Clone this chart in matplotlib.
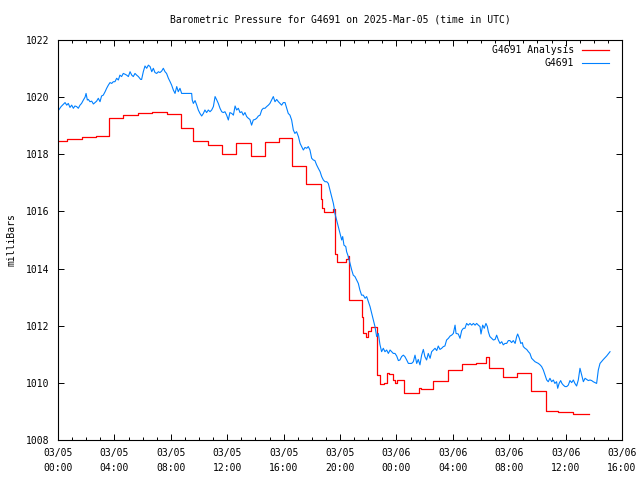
import numpy as np
import pandas as pd
import matplotlib
matplotlib.use("Agg")
import matplotlib.pyplot as plt
import matplotlib.dates as mdates

plt.rcParams['font.family'] = ['DejaVu Sans Mono']
plt.rcParams['font.size'] = 7

start = pd.Timestamp("2025-03-05 00:00")

# analysis series: hours after start where each step begins, and its value (mb)
ana_hours = [0.0, 0.62, 1.68, 2.67, 3.64, 4.63, 5.65, 6.65, 7.71, 8.70, 9.59,
             10.62, 11.61, 12.63, 13.66, 14.68, 15.66, 16.62, 17.59, 18.63,
             18.71, 18.89, 19.53, 19.62, 19.77, 20.46, 20.55, 20.63, 21.56,
             21.63, 21.85, 22.01, 22.22, 22.60, 22.83, 23.10, 23.31, 23.49,
             23.73, 23.88, 24.03, 24.56, 25.60, 25.72, 26.62, 27.64, 28.63,
             29.65, 30.33, 30.57, 31.53, 32.57, 33.57, 34.59, 35.48, 36.55,
             37.64]
ana_mb = [1018.46, 1018.53, 1018.59, 1018.65, 1019.26, 1019.39, 1019.44,
          1019.48, 1019.40, 1018.91, 1018.46, 1018.31, 1018.00, 1018.38,
          1017.94, 1018.42, 1018.56, 1017.59, 1016.96, 1016.45, 1016.11,
          1015.99, 1016.08, 1014.50, 1014.24, 1014.35, 1014.45, 1012.90,
          1012.32, 1011.74, 1011.59, 1011.83, 1011.96, 1010.27, 1009.96,
          1009.98, 1010.36, 1010.31, 1010.10, 1009.99, 1010.10, 1009.66,
          1009.83, 1009.77, 1010.08, 1010.44, 1010.65, 1010.68, 1010.89,
          1010.51, 1010.19, 1010.33, 1009.70, 1009.01, 1008.97, 1008.91,
          1008.91]

# station observations
obs_hours = [0.02, 0.22, 0.38, 0.50, 0.62, 0.73, 0.85, 0.97, 1.09, 1.20, 1.32,
             1.44, 1.56, 1.67, 1.80, 1.92, 1.99, 2.08, 2.15, 2.27, 2.39, 2.51,
             2.62, 2.74, 2.86, 2.98, 3.09, 3.21, 3.34, 3.45, 3.57, 3.69, 3.81,
             3.92, 4.04, 4.16, 4.28, 4.39, 4.51, 4.63, 4.76, 4.87, 4.99, 5.11,
             5.23, 5.34, 5.46, 5.58, 5.70, 5.86, 5.93, 6.05, 6.17, 6.29, 6.41,
             6.53, 6.65, 6.76, 6.88, 7.00, 7.12, 7.23, 7.35, 7.47, 7.59, 7.70,
             7.83, 7.95, 8.06, 8.18, 8.30, 8.42, 8.53, 8.65, 8.77, 9.48, 9.52,
             9.60, 9.72, 9.84, 9.95, 10.07, 10.19, 10.31, 10.42, 10.54, 10.66,
             10.78, 10.90, 11.02, 11.14, 11.26, 11.37, 11.49, 11.61, 11.72,
             11.84, 11.96, 12.08, 12.19, 12.32, 12.44, 12.56, 12.67, 12.79,
             12.91, 13.03, 13.14, 13.26, 13.38, 13.50, 13.61, 13.73, 13.85,
             13.98, 14.09, 14.21, 14.33, 14.45, 14.56, 14.68, 14.80, 14.92,
             15.03, 15.15, 15.27, 15.39, 15.51, 15.63, 15.75, 15.86, 15.98,
             16.10, 16.22, 16.33, 16.45, 16.57, 16.69, 16.80, 16.92, 17.05,
             17.17, 17.28, 17.40, 17.52, 17.64, 17.75, 17.87, 17.99, 18.11,
             18.22, 18.34, 18.46, 18.59, 18.70, 18.82, 18.94, 19.06, 19.17,
             19.29, 19.41, 19.53, 19.59, 19.64, 19.76, 19.88, 20.00, 20.12,
             20.19, 20.28, 20.41, 20.47, 20.59, 20.71, 20.83, 20.94, 21.06,
             21.18, 21.30, 21.41, 21.53, 21.65, 21.78, 21.89, 22.01, 22.13,
             22.25, 22.36, 22.48, 22.60, 22.72, 22.83, 22.95, 23.07, 23.19,
             23.31, 23.43, 23.55, 23.67, 23.78, 23.90, 24.02, 24.14, 24.25,
             24.37, 24.49, 24.60, 24.73, 24.85, 25.08, 25.20, 25.32, 25.44,
             25.55, 25.67, 25.79, 25.91, 26.02, 26.14, 26.26, 26.39, 26.50,
             26.62, 26.74, 26.86, 26.97, 27.09, 27.21, 27.33, 27.44, 27.56,
             27.69, 27.81, 27.92, 28.04, 28.16, 28.23, 28.39, 28.51, 28.63,
             28.75, 28.86, 28.98, 29.10, 29.22, 29.34, 29.46, 29.58, 29.69,
             29.81, 29.93, 30.00, 30.12, 30.23, 30.35, 30.45, 30.52, 30.63,
             30.75, 30.88, 31.00, 31.11, 31.23, 31.35, 31.47, 31.58, 31.70,
             31.82, 31.94, 32.05, 32.17, 32.29, 32.42, 32.53, 32.60, 32.72,
             32.82, 32.93, 33.00, 33.12, 33.24, 33.36, 33.47, 33.59, 33.71,
             33.83, 33.95, 34.07, 34.19, 34.30, 34.42, 34.54, 34.66, 34.77,
             34.89, 35.01, 35.13, 35.24, 35.36, 35.44, 35.54, 35.65, 35.74,
             35.84, 35.96, 36.08, 36.19, 36.31, 36.43, 36.55, 36.66, 36.78,
             36.90, 37.02, 37.14, 37.26, 37.38, 37.49, 37.61, 37.73, 37.85,
             37.96, 38.08, 38.20, 38.32, 38.44, 38.68, 38.91, 39.15]
obs_mb = [1019.53, 1019.67, 1019.75, 1019.81, 1019.72, 1019.78, 1019.64,
          1019.72, 1019.61, 1019.69, 1019.67, 1019.61, 1019.72, 1019.78,
          1019.90, 1020.00, 1020.13, 1019.90, 1019.92, 1019.84, 1019.86,
          1019.76, 1019.81, 1019.86, 1019.96, 1019.84, 1020.04, 1020.07,
          1020.19, 1020.31, 1020.42, 1020.51, 1020.48, 1020.54, 1020.54,
          1020.66, 1020.60, 1020.77, 1020.72, 1020.83, 1020.80, 1020.77,
          1020.72, 1020.89, 1020.77, 1020.72, 1020.83, 1020.77, 1020.72,
          1020.62, 1020.62, 1020.89, 1021.09, 1021.01, 1021.12, 1021.07,
          1020.89, 1021.01, 1020.86, 1020.83, 1020.89, 1020.86, 1020.91,
          1021.01, 1020.89, 1020.83, 1020.66, 1020.54, 1020.42, 1020.25,
          1020.13, 1020.37, 1020.19, 1020.31, 1020.13, 1020.13, 1019.90,
          1019.78, 1019.88, 1019.72, 1019.55, 1019.43, 1019.34, 1019.43,
          1019.55, 1019.46, 1019.55, 1019.49, 1019.55, 1019.67, 1020.02,
          1019.90, 1019.78, 1019.61, 1019.49, 1019.46, 1019.49, 1019.37,
          1019.20, 1019.46, 1019.43, 1019.37, 1019.69, 1019.55, 1019.61,
          1019.46, 1019.49, 1019.37, 1019.46, 1019.32, 1019.26, 1019.22,
          1019.02, 1019.20, 1019.22, 1019.26, 1019.34, 1019.37, 1019.55,
          1019.61, 1019.61, 1019.67, 1019.72, 1019.78, 1019.90, 1020.02,
          1019.84, 1019.92, 1019.84, 1019.78, 1019.72, 1019.81, 1019.81,
          1019.61, 1019.43, 1019.37, 1019.20, 1018.85, 1018.73, 1018.79,
          1018.62, 1018.38, 1018.27, 1018.15, 1018.24, 1018.21, 1018.27,
          1018.15, 1017.86, 1017.80, 1017.78, 1017.63, 1017.51, 1017.39,
          1017.22, 1017.10, 1017.04, 1017.04, 1016.98, 1016.75, 1016.52,
          1016.28, 1016.11, 1015.93, 1015.70, 1015.47, 1015.23, 1015.00,
          1015.12, 1014.82, 1014.77, 1014.59, 1014.42, 1014.18, 1013.95,
          1013.77, 1013.72, 1013.60, 1013.48, 1013.25, 1013.07, 1013.07,
          1012.96, 1013.02, 1012.84, 1012.67, 1012.43, 1012.20, 1011.97,
          1011.62, 1011.73, 1011.35, 1011.09, 1011.21, 1011.09, 1011.15,
          1011.03, 1011.15, 1011.09, 1011.03, 1011.03, 1010.94, 1010.78,
          1010.80, 1010.92, 1010.97, 1010.92, 1010.80, 1010.68, 1010.68,
          1010.74, 1010.97, 1010.68, 1010.82, 1010.63, 1010.97, 1011.17,
          1010.92, 1010.80, 1011.03, 1010.86, 1011.09, 1011.15, 1011.21,
          1011.13, 1011.29, 1011.17, 1011.21, 1011.27, 1011.29, 1011.50,
          1011.56, 1011.64, 1011.67, 1011.73, 1012.02, 1011.73, 1011.71,
          1011.56, 1011.83, 1011.91, 1011.91, 1012.08, 1012.02, 1012.08,
          1012.02, 1012.08, 1012.02, 1012.08, 1012.02, 1011.97, 1011.71,
          1012.02, 1011.91, 1012.08, 1011.97, 1011.79, 1011.62, 1011.56,
          1011.50, 1011.52, 1011.67, 1011.50, 1011.38, 1011.44, 1011.33,
          1011.38, 1011.38, 1011.48, 1011.48, 1011.41, 1011.48, 1011.38,
          1011.62, 1011.71, 1011.56, 1011.38, 1011.41, 1011.27, 1011.21,
          1011.17, 1011.09, 1011.03, 1010.86, 1010.80, 1010.74, 1010.71,
          1010.68, 1010.63, 1010.57, 1010.45, 1010.27, 1010.10, 1010.04,
          1010.16, 1010.04, 1010.10, 1009.98, 1010.04, 1009.81, 1009.98,
          1010.08, 1009.98, 1009.92, 1009.87, 1009.87, 1009.92, 1010.08,
          1010.01, 1010.10, 1009.98, 1009.89, 1010.10, 1010.51, 1010.27,
          1010.04, 1010.16, 1010.12, 1010.08, 1010.10, 1010.08, 1010.04,
          1010.01, 1009.98, 1010.45, 1010.68, 1010.82, 1010.94, 1011.09]

yticks = [1008, 1010, 1012, 1014, 1016, 1018, 1020, 1022]

ana_t = start + pd.to_timedelta(ana_hours, unit="h")
obs_t = start + pd.to_timedelta(obs_hours, unit="h")

fig = plt.figure(figsize=(6.4, 4.8), dpi=100)
ax = fig.add_axes([58/640, 40/480, 564/640, 400/480])

ax.plot(ana_t, ana_mb, color='#ff0000', lw=0.9, drawstyle='steps-post',
        label='G4691 Analysis')
ax.plot(obs_t, obs_mb, color='#0080ff', lw=0.8, label='G4691')

ax.set_xlim(start, start + pd.Timedelta(hours=40))
ax.set_ylim(1008, 1022)

xt = pd.date_range(start, periods=11, freq='4h')
ax.set_xticks(xt, [t.strftime('%m/%d\n%H:%M') for t in xt])
ax.xaxis.set_minor_locator(mdates.HourLocator())
for lab in ax.get_xticklabels():
    lab.set_linespacing(1.55)
ax.set_yticks(yticks, [str(v) for v in yticks])

ax.tick_params(which='both', direction='in', top=True, right=True, width=0.7)
ax.tick_params(which='major', length=4.5)
ax.tick_params(which='minor', length=2.3)
ax.tick_params(axis='y', pad=6)
ax.tick_params(axis='x', pad=6)
for s in ax.spines.values():
    s.set_linewidth(0.8)

ax.legend(loc='upper right', bbox_to_anchor=(0.9775, 0.9875), frameon=False,
          markerfirst=False, handlelength=2.8, handletextpad=0.8,
          labelspacing=0.3, borderaxespad=0, borderpad=0, fontsize=7)

fig.text(340/640, 1 - 19/480, 'Barometric Pressure for G4691 on 2025-Mar-05 (time in UTC)',
         ha='center', va='center')
fig.text(12/640, 0.5, 'milliBars', rotation=90, ha='center', va='center')

fig.savefig('out.png', dpi=100)
